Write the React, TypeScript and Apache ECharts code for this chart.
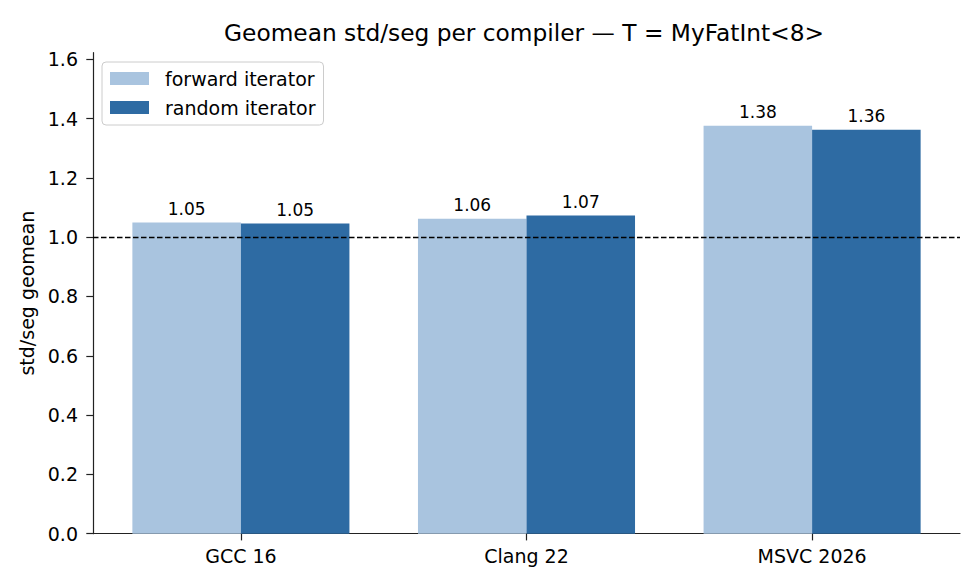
import React, { useEffect, useRef } from 'react';
import * as echarts from 'echarts';

const compilers = ['GCC 16', 'Clang 22', 'MSVC 2026'];
const forwardIter = [1.049, 1.062, 1.376];
const randomIter = [1.046, 1.073, 1.362];
const yTicks = [0, 0.2, 0.4, 0.6, 0.8, 1.0, 1.2, 1.4, 1.6];
const baseline = 1.0;

const FONT = 'DejaVu Sans';

const App: React.FC = () => {
  const chartRef = useRef<HTMLDivElement>(null);

  useEffect(() => {
    const chart = echarts.init(chartRef.current as HTMLDivElement, undefined, { renderer: 'svg' });

    // matplotlib-like limits: y up to ~1.622, x margins of 5% around the bars
    const yMax = 1.622;
    const xMin = -0.518;
    const xMax = 2.518;
    const axisColor = '#222';

    const barLabel = {
      show: true,
      position: 'top',
      distance: 5,
      fontFamily: FONT,
      fontSize: 17,
      color: '#000',
      formatter: (p: any) => p.value.toFixed(2),
    };

    const option = {
      animation: false,
      backgroundColor: '#fff',
      textStyle: { fontFamily: FONT },
      title: {
        text: 'Geomean std/seg per compiler — T = MyFatInt<8>',
        left: 224,
        top: 21,
        padding: 0,
        textStyle: { fontFamily: FONT, fontSize: 23.3, fontWeight: 'normal', color: '#000' },
      },
      legend: {
        orient: 'vertical',
        left: 102,
        top: 62,
        padding: [7, 8, 8, 8],
        itemGap: 10,
        itemWidth: 39,
        itemHeight: 13,
        icon: 'rect',
        backgroundColor: 'rgba(255,255,255,0.8)',
        borderColor: '#cccccc',
        borderWidth: 1,
        borderRadius: 4,
        formatter: (name: string) => `{t|${name}}`,
        textStyle: {
          fontFamily: FONT,
          fontSize: 19,
          color: '#000',
          rich: { t: { fontFamily: FONT, fontSize: 19, color: '#000', padding: [0, 0, 0, 11] } },
        },
        data: ['forward iterator', 'random iterator'],
      },
      grid: [
        { left: 93, right: 20, top: 52.7, bottom: 54.3 },
        { left: 98.1, right: 25.1, top: 52.7, bottom: 54.3 },
      ],
      xAxis: [
        {
          type: 'value',
          gridIndex: 0,
          min: xMin,
          max: xMax,
          axisLine: { show: true, onZero: false, lineStyle: { color: axisColor, width: 1.2 } },
          axisTick: { show: false },
          axisLabel: { show: false },
          splitLine: { show: false },
        },
        {
          type: 'category',
          gridIndex: 1,
          data: compilers,
          axisLine: { show: false },
          axisTick: { show: true, alignWithLabel: true, length: 6.7, lineStyle: { color: axisColor, width: 1.2 } },
          axisLabel: { fontFamily: FONT, fontSize: 19, color: '#000', margin: 13 },
        },
      ],
      yAxis: [
        {
          type: 'value',
          gridIndex: 0,
          min: 0,
          max: yMax,
          name: 'std/seg geomean',
          nameLocation: 'middle',
          nameGap: 52,
          nameTextStyle: { fontFamily: FONT, fontSize: 19, color: '#000' },
          axisLine: { show: true, onZero: false, lineStyle: { color: axisColor, width: 1.2 } },
          axisTick: { show: true, length: 6.7, customValues: yTicks, lineStyle: { color: axisColor, width: 1.2 } },
          axisLabel: {
            fontFamily: FONT,
            fontSize: 19,
            color: '#000',
            margin: 15,
            customValues: yTicks,
            formatter: (v: number) => v.toFixed(1),
          },
          splitLine: { show: false },
        },
        {
          type: 'value',
          gridIndex: 1,
          min: 0,
          max: yMax,
          show: false,
          splitLine: { show: false },
        },
      ],
      series: [
        {
          name: 'forward iterator',
          type: 'bar',
          xAxisIndex: 1,
          yAxisIndex: 1,
          data: forwardIter,
          barGap: '0%',
          barCategoryGap: '24%',
          itemStyle: { color: '#a9c4df' },
          label: barLabel,
        },
        {
          name: 'random iterator',
          type: 'bar',
          xAxisIndex: 1,
          yAxisIndex: 1,
          data: randomIter,
          barGap: '0%',
          barCategoryGap: '24%',
          itemStyle: { color: '#2e6ba3' },
          label: barLabel,
        },
        {
          type: 'line',
          xAxisIndex: 0,
          yAxisIndex: 0,
          data: [],
          silent: true,
          markLine: {
            silent: true,
            symbol: 'none',
            label: { show: false },
            lineStyle: { color: '#000', type: [5.5, 2.5], width: 1.3 },
            data: [[{ coord: [xMin, baseline] }, { coord: [xMax, baseline] }]],
          },
        },
      ],
    };

    chart.setOption(option);

    return () => {
      chart.dispose();
    };
  }, []);

  return (
    <div
      ref={chartRef}
      style={{ position: 'fixed', left: 0, top: 0, width: '980px', height: '588px' }}
    ></div>
  );
};

export default App;
